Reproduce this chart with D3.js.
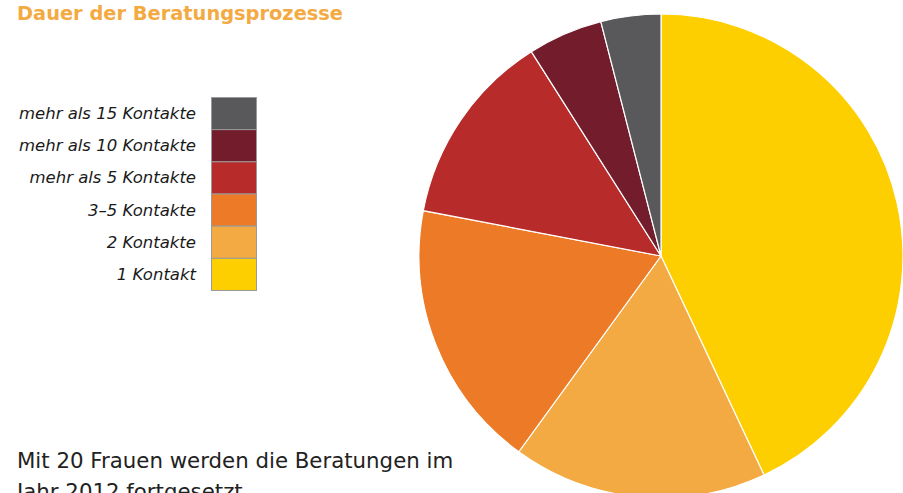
<!DOCTYPE html>
<html>
<head>
<meta charset="utf-8">
<script src="https://cdn.jsdelivr.net/npm/d3@7"></script>
<style>
  html, body { margin: 0; padding: 0; background: #fff; }
  svg { display: block; }
</style>
</head>
<body>
<svg id="chart" width="903" height="493"></svg>
<script>
const categories = ["1 Kontakt", "2 Kontakte", "3–5 Kontakte", "mehr als 5 Kontakte", "mehr als 10 Kontakte", "mehr als 15 Kontakte"];
const values = [43, 17, 18, 13, 5, 4];
const colors = ["#FDCE00", "#F4AA42", "#EC7A26", "#B72B2B", "#731C2C", "#59595B"];
const title = "Dauer der Beratungsprozesse";
const noteLines = ["Mit 20 Frauen werden die Beratungen im", "Jahr 2012 fortgesetzt."];

const svg = d3.select("#chart");
const data = categories.map((c, i) => ({ cat: c, value: values[i], color: colors[i] }));

// Title
svg.append("text")
  .attr("x", 17).attr("y", 20)
  .attr("fill", "#F4AA42")
  .attr("font-family", "'DejaVu Sans', sans-serif")
  .attr("font-weight", "bold")
  .attr("font-size", 20)
  .attr("textLength", 326)
  .attr("lengthAdjust", "spacingAndGlyphs")
  .text(title);

// Pie
const cx = 661, cy = 256, r = 242;
const pie = d3.pie().value(d => d.value).sort(null);
const arc = d3.arc().innerRadius(0).outerRadius(r);
const g = svg.append("g").attr("transform", `translate(${cx},${cy})`);
g.selectAll("path")
  .data(pie(data))
  .join("path")
  .attr("d", arc)
  .attr("fill", d => d.data.color)
  .attr("stroke", "#fff")
  .attr("stroke-width", 1.2);

// Legend (reverse order, top = last category)
const legendData = data.slice().reverse();
const y = d3.scaleBand().domain(legendData.map(d => d.cat)).range([97, 290]).padding(0);
const lg = svg.append("g");
lg.selectAll("rect")
  .data(legendData)
  .join("rect")
  .attr("x", 211.5)
  .attr("y", d => y(d.cat) + 0.5)
  .attr("width", 45)
  .attr("height", y.bandwidth())
  .attr("fill", d => d.color)
  .attr("stroke", "#9a9a9a")
  .attr("stroke-width", 1);
lg.selectAll("text")
  .data(legendData)
  .join("text")
  .attr("x", 196)
  .attr("y", d => y(d.cat) + y.bandwidth() / 2 + 6)
  .attr("text-anchor", "end")
  .attr("font-family", "'DejaVu Sans', sans-serif")
  .attr("font-style", "italic")
  .attr("font-size", 16.5)
  .attr("fill", "#1a1a1a")
  .text(d => d.cat);

// Note text
svg.append("g").selectAll("text")
  .data(noteLines)
  .join("text")
  .attr("x", 17)
  .attr("y", (d, i) => 468 + i * 31)
  .attr("font-family", "'DejaVu Sans', sans-serif")
  .attr("font-size", 21.3)
  .attr("fill", "#222")
  .text(d => d);
</script>
</body>
</html>
